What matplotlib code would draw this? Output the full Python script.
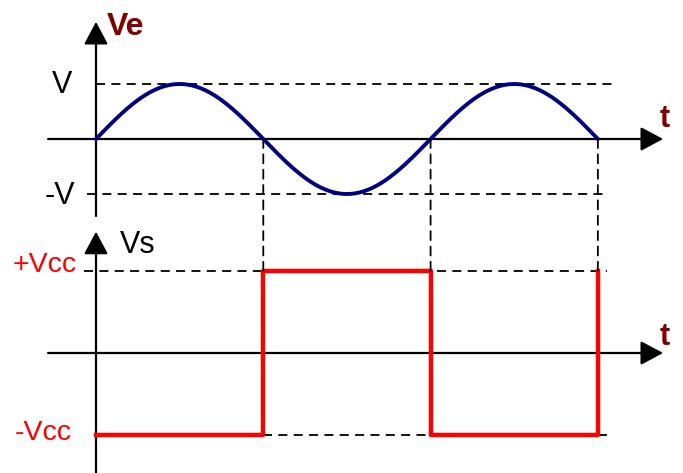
import numpy as np
import matplotlib.pyplot as plt
from matplotlib.patches import ConnectionPatch

# input signal Ve (sine, 1.5 periods) and comparator output Vs
V = 1.0
Vcc = 1.0
crossings = [np.pi, 2 * np.pi, 3 * np.pi]
t = np.linspace(0, 3 * np.pi, 500)
ve = V * np.sin(t)

vs_edges = [0, np.pi, 2 * np.pi, 3 * np.pi, 3 * np.pi]
vs_levels = [-Vcc, Vcc, -Vcc, Vcc, Vcc]

dark_red = '#800000'
dash = (0, (5, 3.5))
plt.rcParams['font.family'] = ['Liberation Sans', 'DejaVu Sans']

fig = plt.figure(figsize=(6.83, 4.73), dpi=100)
ax1 = fig.add_axes([0, 1 - 236 / 473, 1, 236 / 473])
ax2 = fig.add_axes([0, 0, 1, 237 / 473])

px = 53.25  # pixels per radian
xlim = (-96 / px, (683 - 96) / px)
ax1.set_xlim(xlim)
ax2.set_xlim(xlim)
ax1.set_ylim(-97 / 55, 139 / 55)
ax2.set_ylim(-120 / 82, 117 / 82)
for ax in (ax1, ax2):
    ax.axis('off')

arrow = dict(arrowstyle='-|>,head_length=0.6,head_width=0.32', mutation_scale=23,
             color='black', lw=1.6, shrinkA=0, shrinkB=0)

# top panel
ax1.annotate('', xy=(10.65, 0), xytext=(-0.9, 0), arrowprops=arrow, annotation_clip=False)
ax1.annotate('', xy=(0, 2.13), xytext=(0, -1.4), arrowprops=arrow, annotation_clip=False)
ax1.plot([0, 9.75], [V, V], color='black', lw=1.3, ls=dash)
ax1.plot([-0.17, 9.6], [-V, -V], color='black', lw=1.3, ls=dash)
ax1.plot(t, ve, color='#000080', lw=2.8, solid_capstyle='round', zorder=5)

ax1.text(0.2, 1.89, 'Ve', color=dark_red, fontsize=23, fontweight='bold', va='baseline')
ax1.text(-0.64, 0.84, 'V', color='black', fontsize=22, ha='center', va='baseline')
ax1.text(-0.68, -1.18, '-V', color='black', fontsize=22, ha='center', va='baseline')
ax1.text(10.59, 0.22, 't', color=dark_red, fontsize=22, fontweight='bold', va='baseline')

# bottom panel
ax2.annotate('', xy=(10.65, 0), xytext=(-0.9, 0), arrowprops=arrow, annotation_clip=False)
ax2.annotate('', xy=(0, 1.48), xytext=(0, -1.46), arrowprops=arrow, annotation_clip=False)
ax2.plot([-0.23, 9.6], [Vcc, Vcc], color='black', lw=1.3, ls=dash)
ax2.plot([np.pi, 2 * np.pi], [-Vcc, -Vcc], color='black', lw=1.3, ls=dash)
ax2.plot([3 * np.pi, 9.6], [-Vcc, -Vcc], color='black', lw=1.3, ls=dash)
ax2.step(vs_edges, vs_levels, where='post', color='#ff0000', lw=3.2, zorder=5)

ax2.text(0.45, 1.22, 'Vs', color='black', fontsize=22, va='baseline')
ax2.text(-0.36, 0.99, '+Vcc', color='#ff0000', fontsize=20.5, ha='right', va='baseline')
ax2.text(-0.45, -1.06, '-Vcc', color='#ff0000', fontsize=20.5, ha='right', va='baseline')
ax2.text(10.59, 0.1, 't', color=dark_red, fontsize=22, fontweight='bold', va='baseline')

# dashed links from the zero crossings of Ve to +Vcc level
for x in crossings:
    con = ConnectionPatch(xyA=(x, 0), coordsA=ax1.transData,
                          xyB=(x, Vcc), coordsB=ax2.transData,
                          color='black', lw=1.3, ls=dash, zorder=1)
    fig.add_artist(con)

fig.savefig('out.png', dpi=100)
